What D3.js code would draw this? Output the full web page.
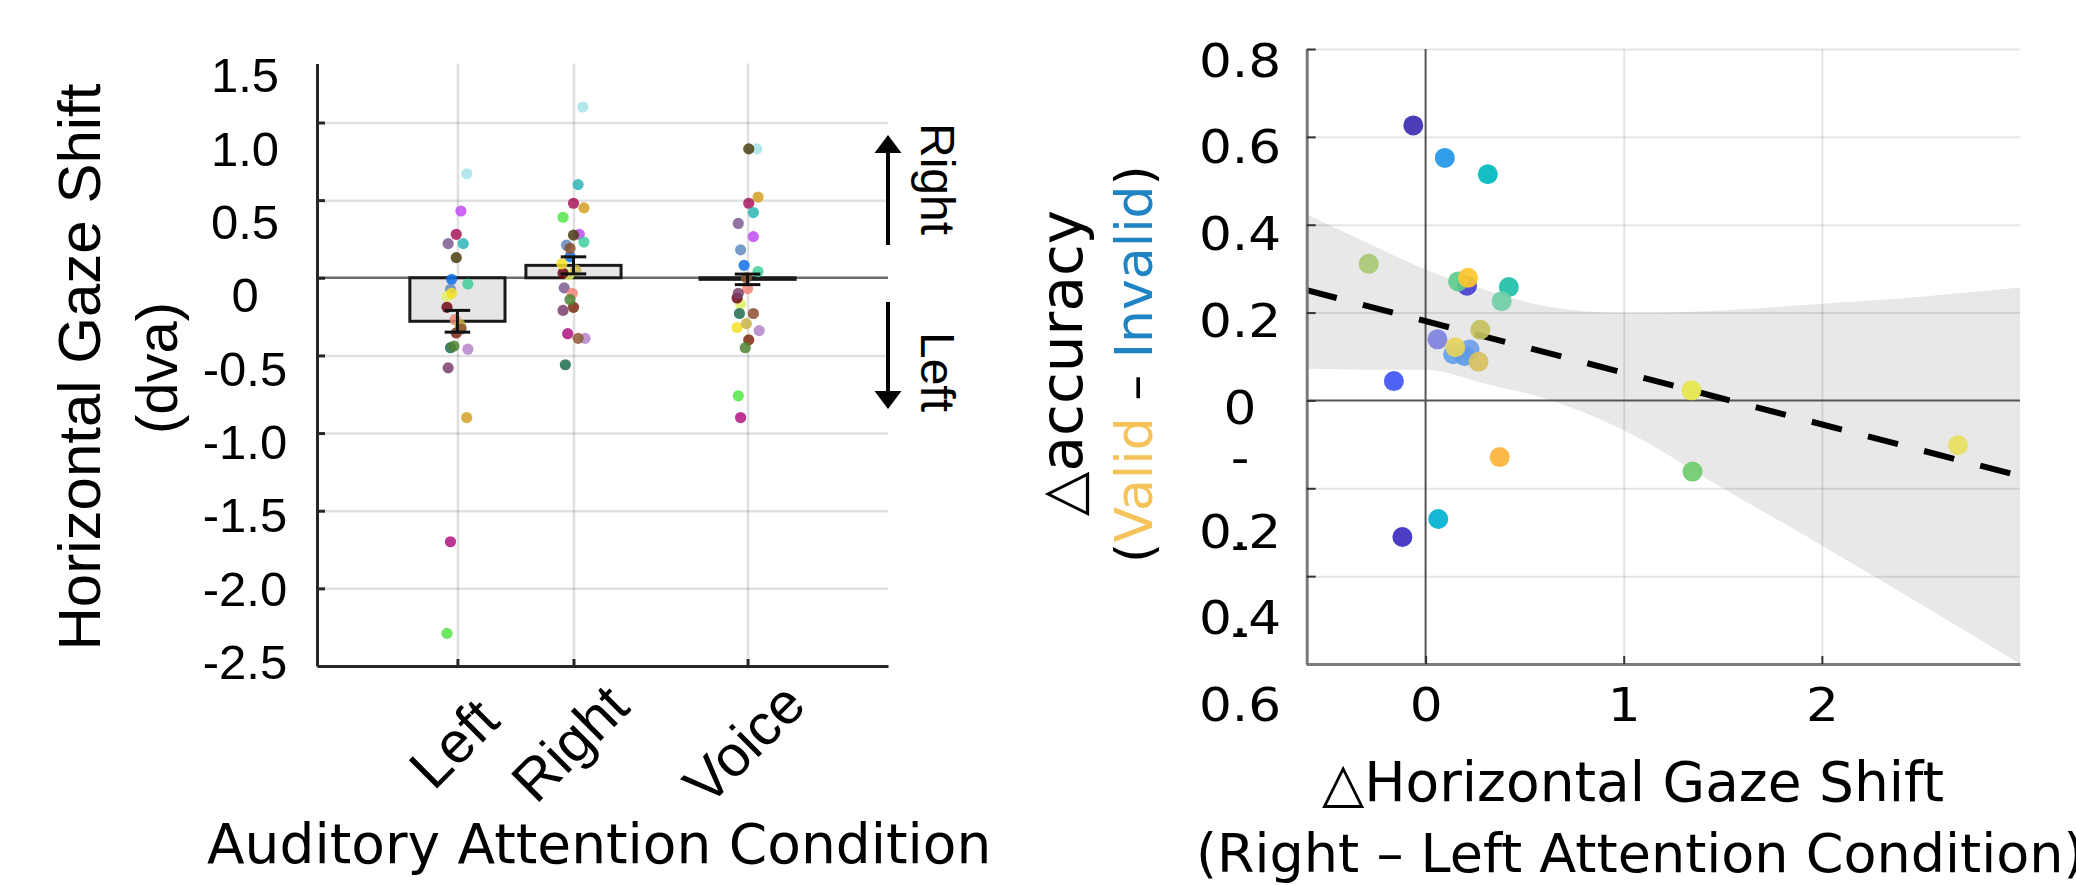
<!DOCTYPE html>
<html>
<head>
<meta charset="utf-8">
<script src="https://cdn.jsdelivr.net/npm/d3@7"></script>
<style>
  body { margin: 0; background: #fff; }
  svg { display: block; background: #fff; }
</style>
</head>
<body>
<svg id="chart" width="2076" height="885"></svg>
<script>
// ---------- left panel: gaze shift per attention condition ----------
const conditions = ["Left", "Right", "Voice"];
const conditionPos = [1, 2, 3.5];          // x positions of the three conditions
const barMeans = [-0.28, 0.08, -0.01];
const barSems = [0.07, 0.055, 0.034];

// one colour per subject, same subject order in every gaze array
const subjectColors = [
  "#a6e3ea", "#c04cf0", "#a8185c", "#7c5a92", "#2db4b8", "#4a3e0e",
  "#0d6ee8", "#3fcf9a", "#6089bd", "#e2f06a", "#700416", "#ee8474",
  "#8c4c2a", "#7c2a10", "#1e6c4c", "#4e8434", "#b484ca", "#7a3e6c",
  "#d4a024", "#b01282", "#52e446", "#f4e024", "#c8b448", "#8e5a32"
];
const gazeLeft  = [0.67, 0.43, 0.28, 0.22, 0.22, 0.13, -0.01, -0.04, -0.075, -0.12, -0.19, -0.27,
                   -0.32, -0.355, -0.45, -0.44, -0.46, -0.58, -0.90, -1.70, -2.29, -0.10, -0.30, -0.33];
const gazeRight = [1.10, 0.28, 0.48, -0.065, 0.60, 0.275, 0.135, 0.23, 0.21, 0.02, 0.03, -0.10,
                   0.19, -0.19, -0.56, -0.14, -0.39, -0.21, 0.45, -0.36, 0.39, 0.09, 0.05, -0.39];
const gazeVoice = [0.83, 0.265, 0.48, 0.35, 0.42, 0.83, 0.08, 0.04, 0.18, -0.17, -0.13, -0.07,
                   -0.23, -0.40, -0.23, -0.45, -0.34, -0.10, 0.52, -0.90, -0.76, -0.32, -0.295, 0.0];
// horizontal scatter of the dots, in condition units
const jitterLeft  = [0.08, 0.03, -0.01, -0.08, 0.05, -0.01, -0.05, 0.09, -0.06, -0.09, -0.09, -0.02,
                     0.03, -0.01, -0.06, -0.03, 0.09, -0.08, 0.08, -0.06, -0.09, -0.05, 0.02, 0.03];
const jitterRight = [0.08, 0.05, 0.0, -0.08, 0.04, 0.0, -0.03, 0.09, -0.06, -0.04, -0.09, -0.01,
                     -0.03, 0.0, -0.07, -0.03, 0.10, -0.09, 0.09, -0.05, -0.09, -0.10, 0.02, 0.04];
const jitterVoice = [0.08, 0.05, 0.01, -0.08, 0.05, 0.01, -0.03, 0.09, -0.06, -0.06, -0.09, 0.0,
                     0.05, 0.01, -0.07, -0.02, 0.10, -0.08, 0.09, -0.06, -0.08, -0.09, -0.01, -0.01];

const leftTicks = [1.5, 1, 0.5, 0, -0.5, -1, -1.5, -2, -2.5];
const leftTickLabels = ["1.5", "1.0", "0.5", "0", "-0.5", "-1.0", "-1.5", "-2.0", "-2.5"];

// ---------- right panel: accuracy effect vs gaze difference ----------
const gazeDiff = [-0.062, 0.097, 0.314, -0.287, 0.209, 0.164, 0.214, 0.42, 0.384, 0.276, 0.06, 0.139,
                  0.222, 0.197, 0.15, 0.267, -0.16, 1.342, 0.374, 1.347, 0.064, -0.117, 2.687];
const accDiff  = [0.626, 0.552, 0.515, 0.311, 0.261, 0.271, 0.279, 0.258, 0.226, 0.161, 0.139, 0.105,
                  0.116, 0.101, 0.121, 0.088, 0.044, 0.023, -0.129, -0.162, -0.270, -0.311, -0.102];
const pointColors = [
  "#3b2db0", "#2196e8", "#00b8c0", "#a9c873", "#4a3fd0", "#5dcc8a", "#ffc62e", "#1fc0a8",
  "#6fcfa5", "#c4c060", "#7f80e0", "#62a2ea", "#6b9ee8", "#5e9ae6", "#e6d25e", "#d8c060",
  "#3f55f5", "#e6e64a", "#fbb437", "#6ccc6c", "#00b2d0", "#3c2dc0", "#e6e060"
];
const fitX = [-0.6, 3];
const fitY = [0.251, -0.172];
const ciX     = [-0.6, -0.3, 0, 0.3, 0.6, 1, 1.5, 2, 2.5, 3];
const ciUpper = [0.424, 0.36, 0.298, 0.252, 0.215, 0.199, 0.205, 0.22, 0.236, 0.257];
const ciLower = [0.072, 0.07, 0.07, 0.038, 0.005, -0.068, -0.20, -0.33, -0.464, -0.60];

const rightYTicks = [0.8, 0.6, 0.4, 0.2, 0, -0.2, -0.4, -0.6];
const rightXTicks = [0, 1, 2];

const svg = d3.select("svg#chart");
const arial = "'Liberation Sans', Arial, sans-serif";
const dejavu = "'DejaVu Sans', sans-serif";

// ======================= LEFT PANEL =======================
const xL = d3.scaleLinear().domain([-0.21, 4.71]).range([317, 888]);
const yL = d3.scaleLinear().domain([-2.5, 1.38]).range([666, 63.5]);
// tick labels sit on their own (slightly tighter) spacing in the figure
const yLabelL = d3.scaleLinear().domain([-2.5, 1.5]).range([663, 76]);
const wL = xL.range()[1] - xL.range()[0];
const hL = yL.range()[0] - yL.range()[1];
const gridTicksL = leftTicks.filter(d => d < yL.domain()[1] && d > yL.domain()[0]);

const left = svg.append("g");

// grid
left.append("g")
    .attr("transform", `translate(${xL.range()[0]},0)`)
    .call(d3.axisLeft(yL).tickValues(gridTicksL.filter(d => d !== 0)).tickSize(-wL).tickFormat(""))
    .call(g => g.select(".domain").remove())
    .selectAll("line")
    .attr("stroke", "#000").attr("stroke-opacity", 0.12).attr("stroke-width", 2.5);

left.append("g")
    .attr("transform", `translate(0,${yL.range()[0]})`)
    .call(d3.axisBottom(xL).tickValues(conditionPos).tickSize(-hL).tickFormat(""))
    .call(g => g.select(".domain").remove())
    .selectAll("line")
    .attr("stroke", "#000").attr("stroke-opacity", 0.12).attr("stroke-width", 2.5);

// zero line
left.append("line")
    .attr("x1", xL.range()[0]).attr("x2", xL.range()[1])
    .attr("y1", yL(0)).attr("y2", yL(0))
    .attr("stroke", "#6b6b6b").attr("stroke-width", 2.5);

// bars
const halfBar = 0.41;
left.append("g")
  .selectAll("rect")
  .data(barMeans)
  .join("rect")
    .attr("x", (d, i) => xL(conditionPos[i] - halfBar))
    .attr("width", (d, i) => xL(conditionPos[i] + halfBar) - xL(conditionPos[i] - halfBar))
    .attr("y", d => yL(Math.max(0, d)))
    .attr("height", d => Math.abs(yL(d) - yL(0)))
    .attr("fill", "#e6e6e6")
    .attr("stroke", "#1a1a1a")
    .attr("stroke-width", 3);

// subject dots
const gazeSets = [gazeLeft, gazeRight, gazeVoice];
const jitterSets = [jitterLeft, jitterRight, jitterVoice];
gazeSets.forEach((vals, c) => {
  left.append("g")
    .selectAll("circle")
    .data(vals)
    .join("circle")
      .attr("cx", (d, i) => xL(conditionPos[c] + jitterSets[c][i]))
      .attr("cy", d => yL(d))
      .attr("r", 5.6)
      .attr("fill", (d, i) => subjectColors[i])
      .attr("fill-opacity", 0.85);
});

// error bars
const capHalf = 0.11;
const err = left.append("g").attr("stroke", "#111").attr("stroke-width", 3);
barMeans.forEach((m, i) => {
  const p = conditionPos[i];
  err.append("line").attr("x1", xL(p)).attr("x2", xL(p)).attr("y1", yL(m - barSems[i])).attr("y2", yL(m + barSems[i]));
  [m - barSems[i], m + barSems[i]].forEach(v => {
    err.append("line").attr("x1", xL(p - capHalf)).attr("x2", xL(p + capHalf)).attr("y1", yL(v)).attr("y2", yL(v));
  });
});

// axes (inward ticks)
left.append("g")
    .attr("transform", `translate(${xL.range()[0]},0)`)
    .call(d3.axisLeft(yL).tickValues(gridTicksL).tickSizeInner(-8).tickSizeOuter(0).tickFormat(""))
    .call(g => g.selectAll("path, line").attr("stroke", "#262626").attr("stroke-width", 3));

left.append("g")
    .attr("transform", `translate(0,${yL.range()[0]})`)
    .call(d3.axisBottom(xL).tickValues(conditionPos).tickSizeInner(-7).tickSizeOuter(0).tickFormat(""))
    .call(g => g.selectAll("path, line").attr("stroke", "#262626").attr("stroke-width", 3));

// y tick labels
left.append("g")
    .attr("transform", "translate(245,0)")
    .call(d3.axisLeft(yLabelL).tickValues(leftTicks).tickFormat((d, i) => leftTickLabels[i]).tickSize(0).tickPadding(0))
    .call(g => g.select(".domain").remove())
    .selectAll("text")
    .attr("text-anchor", "middle")
    .attr("font-family", arial)
    .attr("font-size", 49)
    .attr("fill", "#000");

// condition labels, rotated
left.append("g")
  .selectAll("text")
  .data(conditions)
  .join("text")
    .attr("transform", (d, i) => `translate(${xL(conditionPos[i]) - 4},743) rotate(-45)`)
    .attr("text-anchor", "middle")
    .attr("dominant-baseline", "central")
    .attr("font-family", arial)
    .attr("font-size", 58)
    .text(d => d);

// axis titles
left.append("text")
    .attr("transform", "translate(100,367) rotate(-90)")
    .attr("text-anchor", "middle")
    .attr("font-family", arial)
    .attr("font-size", 60)
    .text("Horizontal Gaze Shift");

left.append("text")
    .attr("transform", "translate(177,368) rotate(-90)")
    .attr("text-anchor", "middle")
    .attr("font-family", arial)
    .attr("font-size", 58)
    .text("(dva)");

left.append("text")
    .attr("x", 207).attr("y", 863)
    .attr("font-family", dejavu)
    .attr("font-size", 55)
    .text("Auditory Attention Condition");

// direction arrows on the right edge
const arrowX = 888;
const arrows = left.append("g");
arrows.append("line").attr("x1", arrowX).attr("x2", arrowX).attr("y1", 245).attr("y2", 148)
    .attr("stroke", "#000").attr("stroke-width", 4);
arrows.append("path").attr("d", `M${arrowX},135 L${arrowX - 13.5},153 L${arrowX + 13.5},153 Z`).attr("fill", "#000");
arrows.append("line").attr("x1", arrowX).attr("x2", arrowX).attr("y1", 302).attr("y2", 396)
    .attr("stroke", "#000").attr("stroke-width", 4);
arrows.append("path").attr("d", `M${arrowX},409 L${arrowX - 13.5},391 L${arrowX + 13.5},391 Z`).attr("fill", "#000");

arrows.append("text")
    .attr("transform", "translate(921,179) rotate(90)")
    .attr("text-anchor", "middle")
    .attr("font-family", arial).attr("font-size", 48)
    .text("Right");
arrows.append("text")
    .attr("transform", "translate(921,372) rotate(90)")
    .attr("text-anchor", "middle")
    .attr("font-family", arial).attr("font-size", 48)
    .text("Left");

// ======================= RIGHT PANEL =======================
const xR = d3.scaleLinear().domain([-0.6, 3]).range([1306.7, 2020]);
const yR = d3.scaleLinear().domain([-0.6, 0.8]).range([664, 49]);
const yLabelR = d3.scaleLinear().domain([-0.6, 0.8]).range([668.5, 61]);
const wR = xR.range()[1] - xR.range()[0];
const hR = yR.range()[0] - yR.range()[1];

const right = svg.append("g");

// confidence band
const band = d3.area()
    .x((d, i) => xR(ciX[i]))
    .y0((d, i) => yR(ciLower[i]))
    .y1((d, i) => yR(ciUpper[i]))
    .curve(d3.curveMonotoneX);
right.append("path")
    .datum(ciX)
    .attr("d", band)
    .attr("fill", "#e8e8e8");

// grid
right.append("g")
    .attr("transform", `translate(${xR.range()[0]},0)`)
    .call(d3.axisLeft(yR).tickValues(rightYTicks.filter(d => d !== 0 && d > -0.6)).tickSize(-wR).tickFormat(""))
    .call(g => g.select(".domain").remove())
    .selectAll("line")
    .attr("stroke", "#000").attr("stroke-opacity", 0.1).attr("stroke-width", 2);

right.append("g")
    .attr("transform", `translate(0,${yR.range()[0]})`)
    .call(d3.axisBottom(xR).tickValues(rightXTicks.filter(d => d !== 0)).tickSize(-hR).tickFormat(""))
    .call(g => g.select(".domain").remove())
    .selectAll("line")
    .attr("stroke", "#000").attr("stroke-opacity", 0.1).attr("stroke-width", 2);

// zero lines
right.append("line")
    .attr("x1", xR.range()[0]).attr("x2", xR.range()[1])
    .attr("y1", yR(0)).attr("y2", yR(0))
    .attr("stroke", "#555").attr("stroke-width", 2);
right.append("line")
    .attr("x1", xR(0)).attr("x2", xR(0))
    .attr("y1", yR.range()[0]).attr("y2", yR.range()[1])
    .attr("stroke", "#555").attr("stroke-width", 2);

// regression line
right.append("path")
    .datum(fitX)
    .attr("d", d3.line().x(d => xR(d)).y((d, i) => yR(fitY[i])))
    .attr("fill", "none")
    .attr("stroke", "#000")
    .attr("stroke-width", 6)
    .attr("stroke-dasharray", "31,27");

// subjects
right.append("g")
  .selectAll("circle")
  .data(gazeDiff)
  .join("circle")
    .attr("cx", d => xR(d))
    .attr("cy", (d, i) => yR(accDiff[i]))
    .attr("r", 10)
    .attr("fill", (d, i) => pointColors[i])
    .attr("fill-opacity", 0.92);

// axes
right.append("g")
    .attr("transform", `translate(${xR.range()[0]},0)`)
    .call(d3.axisLeft(yR).tickValues(rightYTicks).tickSizeInner(-9).tickSizeOuter(0).tickFormat(""))
    .call(g => g.select(".domain").attr("stroke", "#7a7a7a").attr("stroke-width", 3))
    .call(g => g.selectAll(".tick line").attr("stroke", "#333").attr("stroke-width", 2));

right.append("g")
    .attr("transform", `translate(0,${yR.range()[0]})`)
    .call(d3.axisBottom(xR).tickValues(rightXTicks).tickSizeInner(-8).tickSizeOuter(0).tickFormat(""))
    .call(g => g.select(".domain").attr("stroke", "#7a7a7a").attr("stroke-width", 3))
    .call(g => g.selectAll(".tick line").attr("stroke", "#333").attr("stroke-width", 2));

// y tick labels - negative ones wrap the minus sign onto its own line
// (the figure's numbers are a little wider than the font, hence the x stretch)
right.append("g")
    .attr("transform", "translate(1240,0)")
    .call(d3.axisLeft(yLabelR).tickValues(rightYTicks).tickFormat(d => d3.format(".1~f")(Math.abs(d))).tickSize(0).tickPadding(0))
    .call(g => g.select(".domain").remove())
    .selectAll(".tick text")
    .attr("text-anchor", "middle")
    .attr("transform", "scale(1.1,1)")
    .attr("font-family", dejavu)
    .attr("font-size", 47)
    .attr("fill", "#000")
    .each(function(d) {
      if (d < 0) {
        const t = d3.select(this);
        const label = t.text();
        t.text(null).attr("dy", null);
        t.append("tspan").attr("x", 0).attr("dy", "-0.45em").text("-");
        t.append("tspan").attr("x", 0).attr("dy", "1.56em").text(label);
      }
    });

// x tick labels
right.append("g")
    .attr("transform", "translate(0,704)")
    .call(d3.axisBottom(xR).tickValues(rightXTicks).tickSize(0).tickPadding(0).tickFormat(d3.format("d")))
    .call(g => g.select(".domain").remove())
    .selectAll("text")
    .attr("dy", "0.36em")
    .attr("transform", "scale(1.1,1)")
    .attr("font-family", dejavu)
    .attr("font-size", 47)
    .attr("fill", "#000");

// titles
const yTitle = right.append("g").attr("font-family", dejavu);
yTitle.append("text")
    .attr("transform", "translate(1082,363) rotate(-90)")
    .attr("text-anchor", "middle")
    .attr("font-size", 58)
    .text("\u25B3accuracy");

const vt = yTitle.append("text")
    .attr("transform", "translate(1152,364) rotate(-90)")
    .attr("text-anchor", "middle")
    .attr("font-size", 52);
vt.append("tspan").attr("fill", "#000").text("(");
vt.append("tspan").attr("fill", "#f5c35a").text("Valid");
vt.append("tspan").attr("fill", "#000").text(" \u2013 ");
vt.append("tspan").attr("fill", "#1f83c4").text("Invalid");
vt.append("tspan").attr("fill", "#000").text(")");

right.append("text")
    .attr("x", 1633).attr("y", 801)
    .attr("text-anchor", "middle")
    .attr("font-family", dejavu)
    .attr("font-size", 55)
    .text("\u25B3Horizontal Gaze Shift");

right.append("text")
    .attr("x", 1196).attr("y", 872)
    .attr("font-family", dejavu)
    .attr("font-size", 54)
    .text("(Right \u2013 Left Attention Condition)");
</script>
</body>
</html>
